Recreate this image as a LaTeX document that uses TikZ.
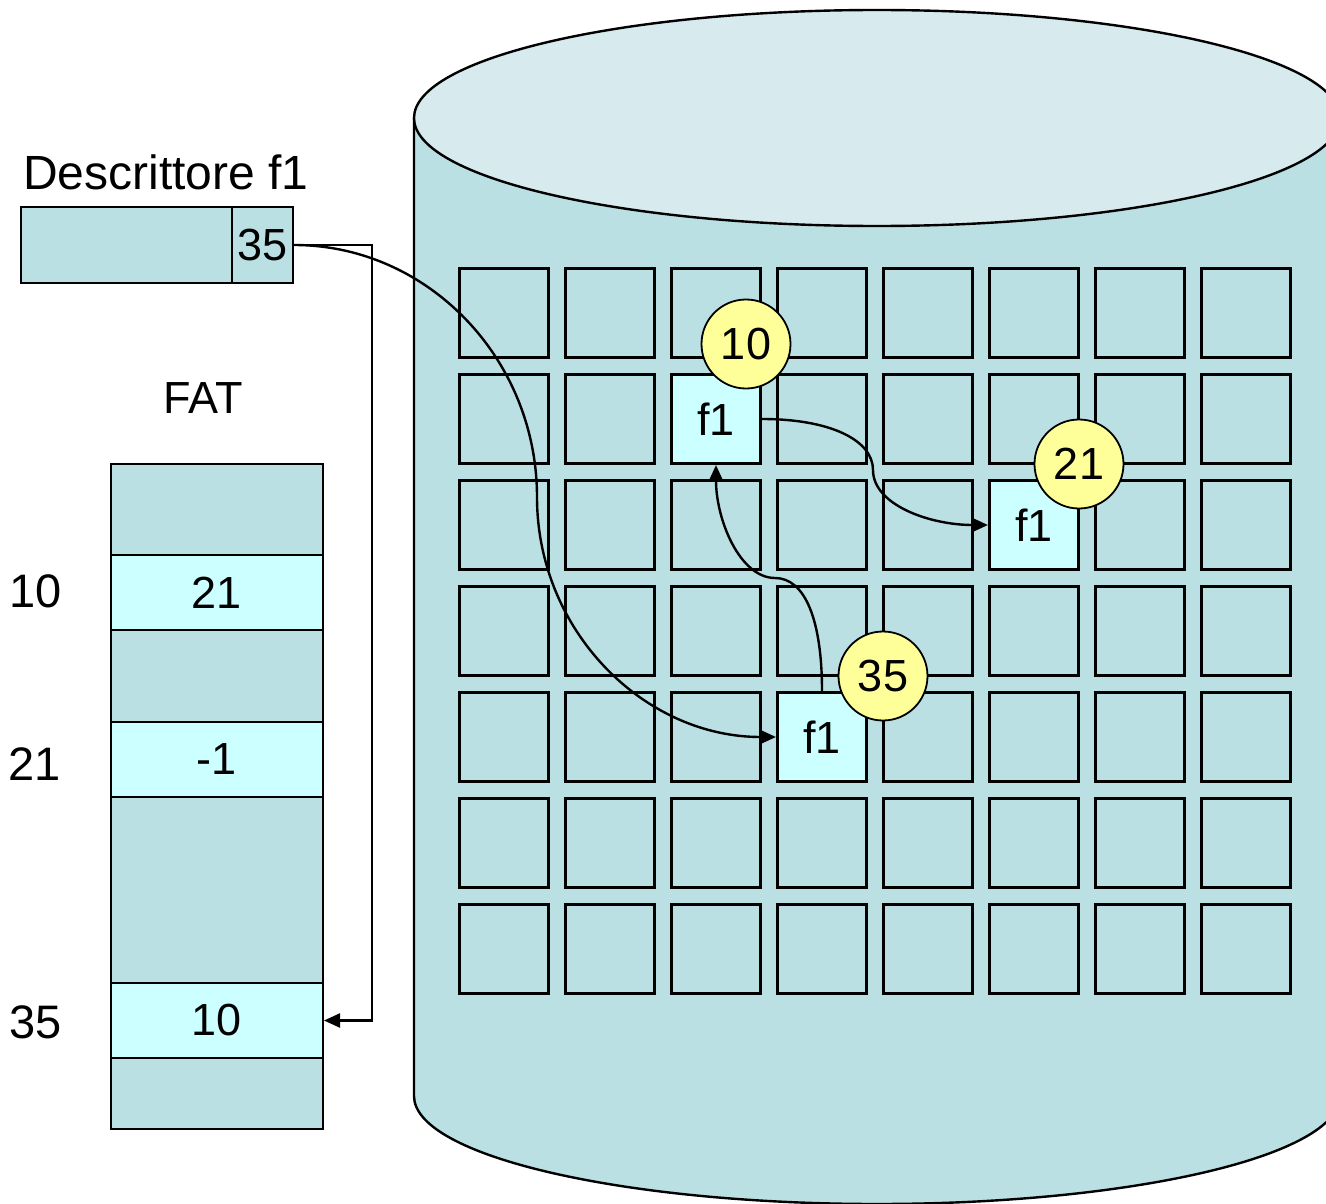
\documentclass[tikz,border=0pt]{standalone}
\usepackage{fontspec}
\setmainfont{Liberation Sans}
\usetikzlibrary{arrows.meta}
\definecolor{cylbody}{RGB}{186,224,227}
\definecolor{cyltop}{RGB}{215,235,238}
\definecolor{cellhi}{RGB}{204,255,255}
\definecolor{ballc}{RGB}{255,255,153}
\begin{document}
\begin{tikzpicture}[x=1pt,y=-1pt,
  txt/.style={font=\fontsize{45}{52}\selectfont},
  bigtxt/.style={font=\fontsize{47}{55}\selectfont},
  cell/.style={draw, line width=2.6pt, minimum size=89.5pt, inner sep=0pt, txt},
  hicell/.style={cell, fill=cellhi},
  ball/.style={circle, draw, line width=1.8pt, fill=ballc, minimum size=89pt, inner sep=0pt, txt},
  fat/.style={draw, line width=2pt, minimum width=212pt, inner sep=0pt, fill=cylbody, txt},
  fathi/.style={fat, fill=cellhi},
  link/.style={line width=2.4pt, -{Triangle[length=16pt,width=14pt]}},
]
\useasboundingbox (0,0) rectangle (1326,1204);
% cylinder
\begin{scope}
\clip (0,0) rectangle (1326,1204);
\fill[cylbody] (414,118) -- (414,1096) arc[start angle=180,end angle=360,x radius=463pt,y radius=108pt] -- (1340,118) -- cycle;
\draw[line width=2.4pt] (414,118) -- (414,1096) arc[start angle=180,end angle=360,x radius=463pt,y radius=108pt] -- (1340,118);
\draw[line width=2.4pt, fill=cyltop] (877,118) ellipse[x radius=463pt, y radius=108pt];
\end{scope}
% grid
\foreach \i in {0,...,7} {
  \foreach \j in {0,...,6} {
    \node[cell] (c-\i-\j) at ({504+106*\i},{313+106*\j}) {};
  }
}
\node[hicell] (h1) at (c-2-1) {f1};
\node[hicell] (h2) at (c-5-2) {f1};
\node[hicell] (h3) at (c-3-4) {f1};
% descriptor
\node[anchor=west, inner sep=0pt, font=\fontsize{48}{56}\selectfont] (dt) at (23,172) {Descrittore f1};
\node[draw, line width=2pt, fill=cylbody, minimum width=211pt, minimum height=76pt, inner sep=0pt] (dbox) at (126.5,245) {};
\node[draw, line width=2pt, fill=cylbody, minimum width=61pt, minimum height=76pt, inner sep=0pt, txt] (d35) at (262.5,245) {35};
% FAT
\node[txt] (fatl) at (203,398) {FAT};
\node[fat, minimum height=91pt] (fa) at (217,509.5) {};
\node[fathi, minimum height=75pt] (f10) at (217,592.5) {21};
\node[fat, minimum height=92pt] (fb) at (217,676) {};
\node[fathi, minimum height=75pt] (f21) at (217,759.5) {-1};
\node[fat, minimum height=186pt] (fc) at (217,890) {};
\node[fathi, minimum height=75pt] (f35) at (217,1020.5) {10};
\node[fat, minimum height=71pt] (fd) at (217,1093.5) {};
\node[bigtxt] (l10) at (36,591) {10};
\node[bigtxt] (l21) at (35,764) {21};
\node[bigtxt] (l35) at (36,1022) {35};
% links
\draw[link] (d35.east) -- ++(78,0) |- (f35.east);
\draw[link] (d35.east) .. controls (428,245) and (537,359) .. (537,497) .. controls (537,631) and (644,737) .. (h3.west);
\draw[link] (h1.east) .. controls (830,419) and (873,440) .. (873,470) .. controls (873,505) and (930,525) .. (h2.west);
\draw[link] (h3.north) .. controls (822,620) and (805,578) .. (775,578) .. controls (740,578) and (716,520) .. (h1.south);
% balls
\node[ball] (b10) at (746,344) {10};
\node[ball] (b21) at (1079,464) {21};
\node[ball] (b35) at (883,676) {35};
\end{tikzpicture}
\end{document}
